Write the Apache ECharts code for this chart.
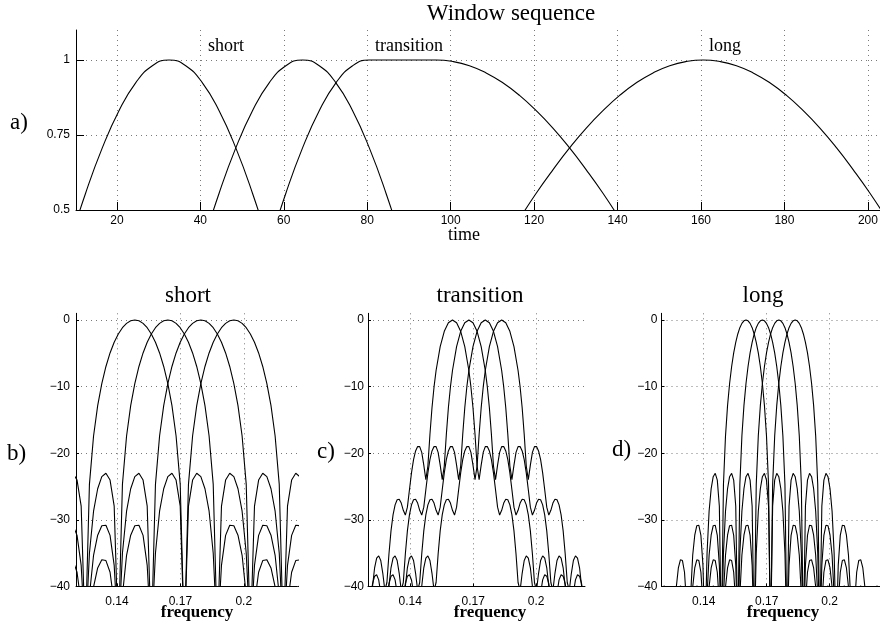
<!DOCTYPE html>
<html>
<head>
<meta charset="utf-8">
<title>Window sequence</title>
<script src="https://cdn.jsdelivr.net/npm/echarts@6/dist/echarts.min.js"></script>
<style>
  html, body { margin: 0; padding: 0; background: #fff; }
  #chart { width: 880px; height: 625px; }
</style>
</head>
<body>
<div id="chart"></div>
<script>
// ---------- a) window sequence in time ----------
const timeTicks = [20, 40, 60, 80, 100, 120, 140, 160, 180, 200];
const ampTicks = [0.5, 0.75, 1];

const short1Time = [8.5, 12.5, 16.5, 20.5, 24.5, 28.5, 32.5, 36.5, 40.5, 44.5, 48.5, 52.5, 56.5];
const short1Amp  = [0.383, 0.556, 0.707, 0.831, 0.924, 0.981, 1, 0.981, 0.924, 0.831, 0.707, 0.556, 0.383];

const short2Time = [40.5, 44.5, 48.5, 52.5, 56.5, 60.5, 64.5, 68.5, 72.5, 76.5, 80.5, 84.5, 88.5];
const short2Amp  = [0.383, 0.556, 0.707, 0.831, 0.924, 0.981, 1, 0.981, 0.924, 0.831, 0.707, 0.556, 0.383];

const transTime = [56.5, 60.5, 64.5, 68.5, 72.5, 76.5, 80.5, 84.5, 88.5, 92.5, 96.5, 100.5, 104.5,
                   108.5, 112.5, 116.5, 120.5, 124.5, 128.5, 132.5, 136.5, 140.5, 144.5];
const transAmp  = [0.383, 0.556, 0.707, 0.831, 0.924, 0.981, 1, 1, 1, 1, 1, 0.995, 0.981,
                   0.957, 0.924, 0.882, 0.831, 0.773, 0.707, 0.634, 0.556, 0.471, 0.383];

const longTime = [112.5, 116.5, 120.5, 124.5, 128.5, 132.5, 136.5, 140.5, 144.5, 148.5, 152.5, 156.5, 160.5,
                  164.5, 168.5, 172.5, 176.5, 180.5, 184.5, 188.5, 192.5, 196.5, 200.5, 204.5, 208.5];
const longAmp  = [0.383, 0.471, 0.556, 0.634, 0.707, 0.773, 0.831, 0.882, 0.924, 0.957, 0.981, 0.995, 1,
                  0.995, 0.981, 0.957, 0.924, 0.882, 0.831, 0.773, 0.707, 0.634, 0.556, 0.471, 0.383];

// ---------- b) c) d) magnitude responses ----------
const freqTicks = [0.14, 0.17, 0.2];
const dbTicks = [-40, -30, -20, -10, 0];

// one side of the sine-window response: distance from the centre (in bins) and level (dB)
const sineLobeOffset = [0, 0.125, 0.25, 0.375, 0.5, 0.625, 0.75, 0.875, 1, 1.125, 1.25, 1.375, 1.5,
  1.625, 1.75, 1.875, 2, 2.125, 2.25, 2.375, 2.5, 2.625, 2.75, 2.875, 3, 3.125, 3.25, 3.375, 3.5,
  3.625, 3.75, 3.875, 4, 4.125, 4.25, 4.375, 4.5, 4.625, 4.75, 4.875, 5, 5.125, 5.25, 5.375, 5.5];
const sineLobeDb = [0, -0.13, -0.51, -1.16, -2.10, -3.35, -4.95, -6.98, -9.54, -12.86, -17.41, -24.68, -48,
  -27.95, -24.03, -23.01, -23.52, -25.33, -28.70, -35.02, -48, -36.83, -32.33, -30.81, -30.88, -32.30, -35.32, -41.32, -48,
  -42.59, -37.86, -36.11, -35.99, -37.22, -40.07, -45.91, -48, -46.89, -42.02, -40.16, -39.91, -41.03, -43.78, -49.5, -55];

// one side of the transition-window response
const transLobeOffset = [0, 0.25, 0.5, 0.75, 1, 1.125, 1.25, 1.375, 1.5, 1.625, 1.75, 1.875, 2,
  2.125, 2.25, 2.375, 2.5, 2.625, 2.75, 2.875, 3, 3.125, 3.25, 3.375, 3.5, 3.625, 3.75, 3.875, 4,
  4.125, 4.25, 4.375, 4.5, 4.625, 4.75, 4.875, 5, 5.125, 5.25, 5.375, 5.5, 5.625, 5.75, 5.875, 6];
const transLobeDb = [0, -0.42, -1.71, -4.00, -7.58, -10.05, -13.17, -17.18, -21.92, -23.96, -21.78, -19.88, -19.01,
  -18.98, -19.65, -20.97, -22.94, -25.48, -28.09, -29.28, -28.57, -27.48, -26.90, -26.98, -27.75, -29.26, -31.65, -35.12, -39.40,
  -40.58, -38.02, -36.10, -35.40, -35.75, -37.19, -39.96, -44.79, -49.94, -44.99, -41.02, -39.01, -38.24, -38.45, -39.59, -41.70];

// centre bins of the four plotted basis functions and the frame length of each window
const shortBins = [9.5, 10.5, 11.5, 12.5];
const shortLength = 64;
const transitionBins = [20.5, 21.5, 22.5, 23.5];
const transitionLength = 128;
const longBins = [20.5, 21.5, 22.5, 23.5];
const longLength = 128;

// ---------- helpers ----------
const serif = '"Liberation Serif", "Times New Roman", Times, serif';
const sans = '"Liberation Sans", Arial, Helvetica, sans-serif';

function pairs(xs, ys) {
  return xs.map((x, i) => [x, ys[i]]);
}

// mirror the one-sided lobe table around the centre bin and convert bins to normalised frequency
function lobeCurve(bin, len, offs, dbs) {
  const pts = [];
  for (let i = offs.length - 1; i > 0; i--) pts.push([(bin - offs[i]) / len, dbs[i]]);
  for (let i = 0; i < offs.length; i++) pts.push([(bin + offs[i]) / len, dbs[i]]);
  return pts;
}

const minusFmt = v => (v < 0 ? '\u2212' + Math.abs(v) : String(v));

function makeAxis(opts) {
  return {
    type: 'value',
    gridIndex: opts.grid,
    min: opts.min,
    max: opts.max,
    position: opts.position,
    axisLine: { show: true, onZero: false, lineStyle: { color: '#000', width: 1 } },
    axisTick: { show: true, inside: true, length: opts.tickLen, customValues: opts.ticks,
                lineStyle: { color: '#000', width: 1 } },
    axisLabel: { show: true, customValues: opts.ticks, margin: opts.margin, color: '#000',
                 fontFamily: sans, fontSize: 12, formatter: opts.fmt },
    splitLine: { show: true, lineStyle: { color: '#7a7a7a', width: 1, type: [1, 4] } },
    minorTick: { show: false },
    minorSplitLine: { show: false }
  };
}

const lineStyle = { color: '#000', width: 1.1 };

function lineSeries(data, xi, smooth) {
  return {
    type: 'line',
    xAxisIndex: xi,
    yAxisIndex: xi,
    data: data,
    showSymbol: false,
    symbol: 'none',
    smooth: smooth,
    clip: true,
    silent: true,
    lineStyle: lineStyle,
    emphasis: { disabled: true }
  };
}

const series = [
  lineSeries(pairs(short1Time, short1Amp), 0, true),
  lineSeries(pairs(short2Time, short2Amp), 0, true),
  lineSeries(pairs(transTime, transAmp), 0, true),
  lineSeries(pairs(longTime, longAmp), 0, true)
];
shortBins.forEach(b => series.push(lineSeries(lobeCurve(b, shortLength, sineLobeOffset, sineLobeDb), 1, false)));
transitionBins.forEach(b => series.push(lineSeries(lobeCurve(b, transitionLength, transLobeOffset, transLobeDb), 2, false)));
longBins.forEach(b => series.push(lineSeries(lobeCurve(b, longLength, sineLobeOffset, sineLobeDb), 3, false)));

function label(text, x, y, size, align, weight) {
  return {
    type: 'text', x: x, y: y, silent: true,
    style: { text: text, fill: '#000', font: (weight ? weight + ' ' : '') + size + 'px ' + serif,
             align: align || 'left', verticalAlign: 'middle' }
  };
}

const gridBase = { containLabel: false, outerBoundsMode: 'none', show: false };

const option = {
  animation: false,
  backgroundColor: '#fff',
  grid: [
    Object.assign({ left: 76, top: 30, width: 804, height: 180 }, gridBase),
    Object.assign({ left: 76, top: 313.3, width: 221, height: 273.2 }, gridBase),
    Object.assign({ left: 368, top: 313.3, width: 217, height: 273.2 }, gridBase),
    Object.assign({ left: 661.5, top: 313.3, width: 218.5, height: 273.2 }, gridBase)
  ],
  xAxis: [
    makeAxis({ grid: 0, min: 10.2, max: 202.9, position: 'bottom', ticks: timeTicks, tickLen: 8, margin: 5 }),
    makeAxis({ grid: 1, min: 0.1206, max: 0.2252, position: 'bottom', ticks: freqTicks, tickLen: 3, margin: 9 }),
    makeAxis({ grid: 2, min: 0.1199, max: 0.2233, position: 'bottom', ticks: freqTicks, tickLen: 3, margin: 9 }),
    makeAxis({ grid: 3, min: 0.1199, max: 0.2240, position: 'bottom', ticks: freqTicks, tickLen: 3, margin: 9 })
  ],
  yAxis: [
    makeAxis({ grid: 0, min: 0.5, max: 1.1, position: 'left', ticks: ampTicks, tickLen: 8, margin: 6 }),
    makeAxis({ grid: 1, min: -40, max: 1, position: 'left', ticks: dbTicks, tickLen: 3, margin: 6, fmt: minusFmt }),
    makeAxis({ grid: 2, min: -40, max: 1, position: 'left', ticks: dbTicks, tickLen: 3, margin: 4, fmt: minusFmt }),
    makeAxis({ grid: 3, min: -40, max: 1, position: 'left', ticks: dbTicks, tickLen: 3, margin: 4, fmt: minusFmt })
  ],
  series: series,
  graphic: [
    label('Window sequence', 511, 14, 23, 'center'),
    label('short', 208, 46, 18),
    label('transition', 375, 46, 18),
    label('long', 709, 46, 18),
    label('time', 448, 235.5, 18),
    label('a)', 10, 123, 23),
    label('short', 188, 296, 23, 'center'),
    label('transition', 480, 296, 23, 'center'),
    label('long', 763, 296, 23, 'center'),
    label('b)', 7, 454, 23),
    label('c)', 317, 452, 23),
    label('d)', 612, 450, 23),
    label('frequency', 197, 613, 17, 'center', 'bold'),
    label('frequency', 490, 613, 17, 'center', 'bold'),
    label('frequency', 783, 613, 17, 'center', 'bold')
  ]
};

const chart = echarts.init(document.getElementById('chart'), null, { renderer: 'canvas' });
chart.setOption(option);
</script>
</body>
</html>
